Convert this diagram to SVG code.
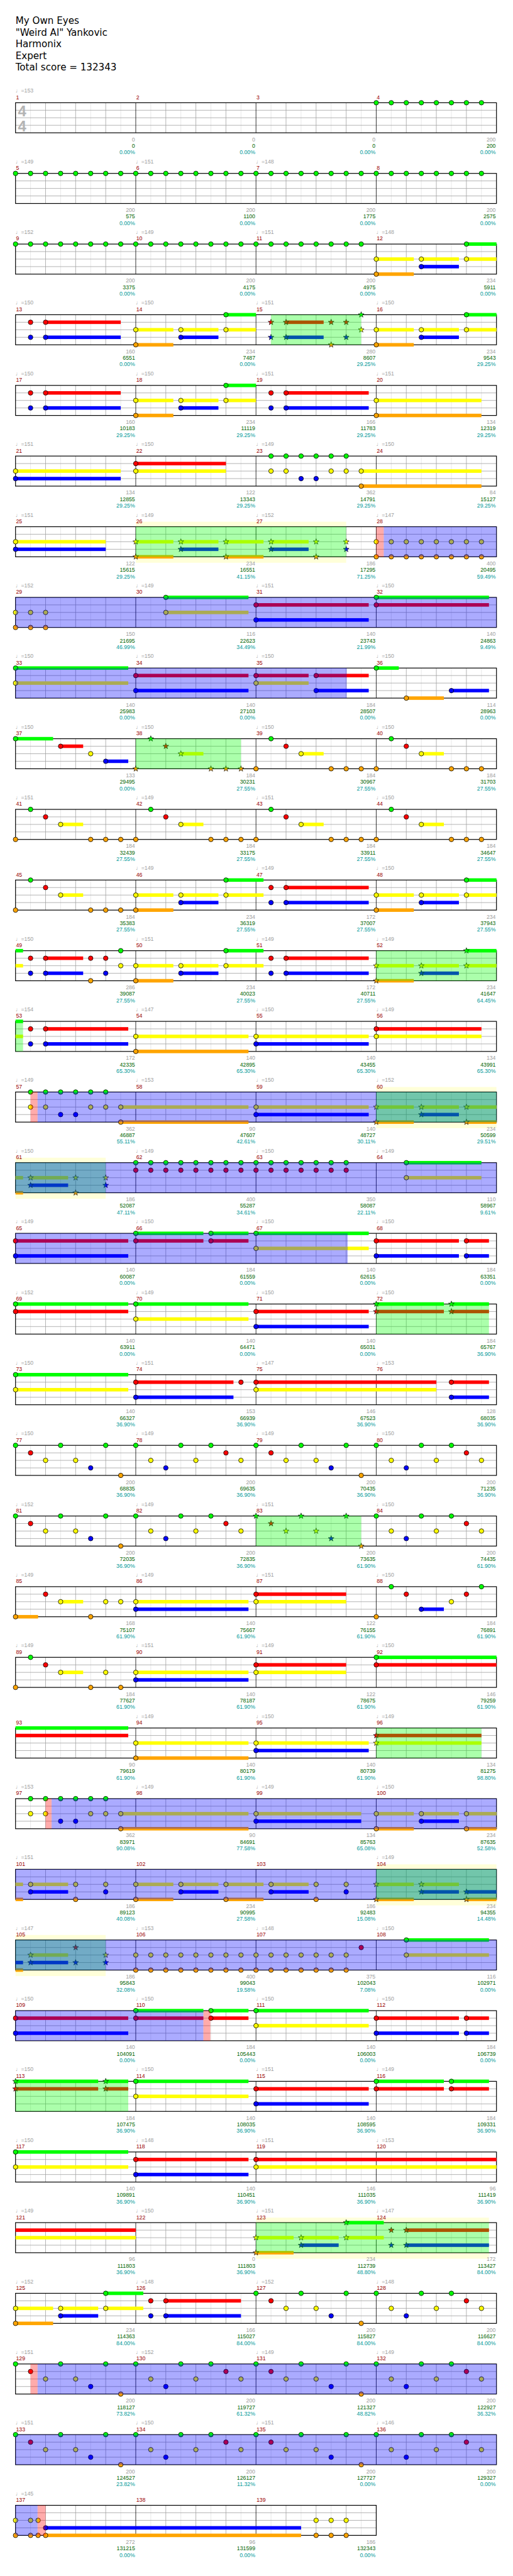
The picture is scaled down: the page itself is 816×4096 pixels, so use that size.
<svg xmlns="http://www.w3.org/2000/svg" width="816" height="4096" viewBox="0 0 816 4096">
<style>
.t{font-family:"DejaVu Sans","Liberation Sans",sans-serif;font-size:19px;fill:#000}
.tp{font-family:"Liberation Sans","DejaVu Sans",sans-serif;font-size:11px;fill:#a0a0a0}
.mn{font-family:"Liberation Sans",sans-serif;font-size:11px;fill:#990000}
.s1,.s2,.s3{font-family:"Liberation Sans",sans-serif;font-size:11px;text-anchor:end}
.s1{fill:#a0a0a0}.s2{fill:#006400}.s3{fill:#009999}
.ts{font-family:"Liberation Sans",sans-serif;font-size:30px;font-weight:bold;fill:#b4b4b4;text-anchor:middle}
.bG{fill:#00ff00}.bR{fill:#ff0000}.bY{fill:#ffff00}.bB{fill:#0000ff}.bO{fill:#ffa500}
.sp{fill:#00ff00;fill-opacity:.33}
.act{fill:#0000ff;fill-opacity:.33}
.pk{fill:#ff0000;fill-opacity:.33}
.py{fill:#ffff00;fill-opacity:.15}
</style>
<defs>
<circle id="G" r="4.6" fill="#00ff00" stroke="#000"/>
<circle id="R" r="4.6" fill="#ff0000" stroke="#000"/>
<circle id="Y" r="4.6" fill="#ffff00" stroke="#000"/>
<circle id="B" r="4.6" fill="#0000ff" stroke="#000"/>
<circle id="O" r="4.6" fill="#ffa500" stroke="#000"/>
<polygon id="SG" points="0,-6 1.41,-1.94 5.71,-1.85 2.28,0.74 3.53,4.85 0,2.4 -3.53,4.85 -2.28,0.74 -5.71,-1.85 -1.41,-1.94" fill="#00ff00" stroke="#000" stroke-width=".8"/>
<polygon id="SR" points="0,-6 1.41,-1.94 5.71,-1.85 2.28,0.74 3.53,4.85 0,2.4 -3.53,4.85 -2.28,0.74 -5.71,-1.85 -1.41,-1.94" fill="#ff0000" stroke="#000" stroke-width=".8"/>
<polygon id="SY" points="0,-6 1.41,-1.94 5.71,-1.85 2.28,0.74 3.53,4.85 0,2.4 -3.53,4.85 -2.28,0.74 -5.71,-1.85 -1.41,-1.94" fill="#ffff00" stroke="#000" stroke-width=".8"/>
<polygon id="SB" points="0,-6 1.41,-1.94 5.71,-1.85 2.28,0.74 3.53,4.85 0,2.4 -3.53,4.85 -2.28,0.74 -5.71,-1.85 -1.41,-1.94" fill="#0000ff" stroke="#000" stroke-width=".8"/>
<polygon id="SO" points="0,-6 1.41,-1.94 5.71,-1.85 2.28,0.74 3.53,4.85 0,2.4 -3.53,4.85 -2.28,0.74 -5.71,-1.85 -1.41,-1.94" fill="#ffa500" stroke="#000" stroke-width=".8"/>
<g id="grid4">
<rect x="31" y="0" width="960" height="60" fill="#fff"/>
<path d="M61 0V60M121 0V60M181 0V60M241 0V60M301 0V60M361 0V60M421 0V60M481 0V60M541 0V60M601 0V60M661 0V60M721 0V60M781 0V60M841 0V60M901 0V60M961 0V60" stroke="#e2e2e2"/>
<path d="M91 0V60M151 0V60M211 0V60M331 0V60M391 0V60M451 0V60M571 0V60M631 0V60M691 0V60M811 0V60M871 0V60M931 0V60M31 15H991M31 30H991M31 45H991" stroke="#a0a0a0"/>
<path d="M271 0V60M511 0V60M751 0V60" stroke="#000"/>
<rect x="31" y="0" width="960" height="60" fill="none" stroke="#000" stroke-width="1.5"/>
</g>
<g id="grid3">
<rect x="31" y="0" width="720" height="60" fill="#fff"/>
<path d="M61 0V60M121 0V60M181 0V60M241 0V60M301 0V60M361 0V60M421 0V60M481 0V60M541 0V60M601 0V60M661 0V60M721 0V60" stroke="#e2e2e2"/>
<path d="M91 0V60M151 0V60M211 0V60M331 0V60M391 0V60M451 0V60M571 0V60M631 0V60M691 0V60M31 15H751M31 30H751M31 45H751" stroke="#a0a0a0"/>
<path d="M271 0V60M511 0V60" stroke="#000"/>
<rect x="31" y="0" width="720" height="60" fill="none" stroke="#000" stroke-width="1.5"/>
</g>
<g id="pA1"><use href="#G" x="31"/><use href="#G" x="121"/><use href="#G" x="211"/><use href="#R" x="61" y="15"/><use href="#Y" x="91" y="30"/><use href="#Y" x="151" y="30"/><use href="#B" x="181" y="45"/><use href="#O" x="241" y="60"/></g>
<g id="pB"><use href="#G" x="271"/><use href="#G" x="361"/><use href="#G" x="421"/><use href="#R" x="451" y="15"/><use href="#Y" x="301" y="30"/><use href="#Y" x="391" y="30"/><use href="#Y" x="481" y="30"/><use href="#B" x="331" y="45"/></g>
<g id="pA3"><use href="#G" x="511"/><use href="#G" x="601"/><use href="#G" x="691"/><use href="#R" x="541" y="15"/><use href="#Y" x="571" y="30"/><use href="#Y" x="631" y="30"/><use href="#B" x="661" y="45"/><use href="#O" x="721" y="60"/></g>
<g id="pC"><use href="#G" x="751"/><use href="#G" x="841"/><use href="#G" x="901"/><use href="#R" x="931" y="15"/><use href="#Y" x="781" y="30"/><use href="#Y" x="871" y="30"/><use href="#Y" x="961" y="30"/><use href="#B" x="811" y="45"/></g>
</defs>
<g transform="scale(0.796875)">
<g id="title">
<text class="t" x="31" y="48">My Own Eyes</text>
<text class="t" x="31" y="71">"Weird Al" Yankovic</text>
<text class="t" x="31" y="94">Harmonix</text>
<text class="t" x="31" y="117.5">Expert</text>
<text class="t" x="31" y="140.5">Total score = 132343</text>
</g>

<g id="row1" transform="translate(0,205)">
<use href="#grid4"/>
<text class="ts" x="44" y="27">4</text><text class="ts" x="44" y="57">4</text>
<text class="tp" x="31" y="-20">♩=153</text>
<text class="mn" x="32" y="-7">1</text><text class="mn" x="272" y="-7">2</text><text class="mn" x="512" y="-7">3</text><text class="mn" x="752" y="-7">4</text>
<use href="#G" x="751"/><use href="#G" x="781"/><use href="#G" x="811"/><use href="#G" x="841"/><use href="#G" x="871"/><use href="#G" x="901"/><use href="#G" x="931"/><use href="#G" x="961"/>
<text class="s1" x="269.5" y="77">0</text><text class="s2" x="269.5" y="90">0</text><text class="s3" x="269.5" y="103">0.00%</text>
<text class="s1" x="509.5" y="77">0</text><text class="s2" x="509.5" y="90">0</text><text class="s3" x="509.5" y="103">0.00%</text>
<text class="s1" x="749.5" y="77">0</text><text class="s2" x="749.5" y="90">0</text><text class="s3" x="749.5" y="103">0.00%</text>
<text class="s1" x="989.5" y="77">200</text><text class="s2" x="989.5" y="90">200</text><text class="s3" x="989.5" y="103">0.00%</text>
</g>

<g id="row2" transform="translate(0,346)">
<use href="#grid4"/>
<text class="tp" x="31" y="-20">♩=149</text><text class="tp" x="271" y="-20">♩=151</text><text class="tp" x="511" y="-20">♩=148</text>
<text class="mn" x="32" y="-7">5</text><text class="mn" x="272" y="-7">6</text><text class="mn" x="512" y="-7">7</text><text class="mn" x="752" y="-7">8</text>
<use href="#G" x="31"/><use href="#G" x="61"/><use href="#G" x="91"/><use href="#G" x="121"/><use href="#G" x="151"/><use href="#G" x="181"/><use href="#G" x="211"/><use href="#G" x="241"/>
<use href="#G" x="271"/><use href="#G" x="301"/><use href="#G" x="331"/><use href="#G" x="361"/><use href="#G" x="391"/><use href="#G" x="421"/><use href="#G" x="451"/><use href="#G" x="481"/>
<use href="#G" x="511"/><use href="#G" x="541"/><use href="#G" x="571"/><use href="#G" x="601"/><use href="#G" x="631"/><use href="#G" x="661"/><use href="#G" x="691"/><use href="#G" x="721"/>
<use href="#G" x="751"/><use href="#G" x="781"/><use href="#G" x="811"/><use href="#G" x="841"/><use href="#G" x="871"/><use href="#G" x="901"/><use href="#G" x="931"/><use href="#G" x="961"/>
<text class="s1" x="269.5" y="77">200</text><text class="s2" x="269.5" y="90">575</text><text class="s3" x="269.5" y="103">0.00%</text>
<text class="s1" x="509.5" y="77">200</text><text class="s2" x="509.5" y="90">1100</text><text class="s3" x="509.5" y="103">0.00%</text>
<text class="s1" x="749.5" y="77">200</text><text class="s2" x="749.5" y="90">1775</text><text class="s3" x="749.5" y="103">0.00%</text>
<text class="s1" x="989.5" y="77">200</text><text class="s2" x="989.5" y="90">2575</text><text class="s3" x="989.5" y="103">0.00%</text>
</g>

<g id="row3" transform="translate(0,487)">
<use href="#grid4"/>
<text class="tp" x="31" y="-20">♩=152</text><text class="tp" x="271" y="-20">♩=149</text><text class="tp" x="511" y="-20">♩=151</text><text class="tp" x="751" y="-20">♩=148</text>
<text class="mn" x="32" y="-7">9</text><text class="mn" x="272" y="-7">10</text><text class="mn" x="512" y="-7">11</text><text class="mn" x="752" y="-7">12</text>
<rect class="bY" x="751" y="26.5" width="75" height="7"/><rect class="bO" x="751" y="56.5" width="75" height="7"/><rect class="bY" x="841" y="26.5" width="75" height="7"/><rect class="bB" x="841" y="41.5" width="75" height="7"/><rect class="bY" x="931" y="26.5" width="60" height="7"/><rect class="bG" x="931" y="-3.5" width="60" height="7"/>
<use href="#G" x="31"/><use href="#G" x="61"/><use href="#G" x="91"/><use href="#G" x="121"/><use href="#G" x="151"/><use href="#G" x="181"/><use href="#G" x="211"/><use href="#G" x="241"/>
<use href="#G" x="271"/><use href="#G" x="301"/><use href="#G" x="331"/><use href="#G" x="361"/><use href="#G" x="391"/><use href="#G" x="421"/><use href="#G" x="451"/><use href="#G" x="481"/>
<use href="#G" x="511"/><use href="#G" x="541"/><use href="#G" x="571"/><use href="#G" x="601"/><use href="#G" x="631"/><use href="#G" x="661"/><use href="#G" x="691"/><use href="#G" x="721"/>
<use href="#Y" x="751" y="30"/><use href="#O" x="751" y="60"/><use href="#Y" x="841" y="30"/><use href="#B" x="841" y="45"/><use href="#Y" x="931" y="30"/><use href="#G" x="931"/>
<text class="s1" x="269.5" y="77">200</text><text class="s2" x="269.5" y="90">3375</text><text class="s3" x="269.5" y="103">0.00%</text>
<text class="s1" x="509.5" y="77">200</text><text class="s2" x="509.5" y="90">4175</text><text class="s3" x="509.5" y="103">0.00%</text>
<text class="s1" x="749.5" y="77">200</text><text class="s2" x="749.5" y="90">4975</text><text class="s3" x="749.5" y="103">0.00%</text>
<text class="s1" x="989.5" y="77">234</text><text class="s2" x="989.5" y="90">5911</text><text class="s3" x="989.5" y="103">0.00%</text>
</g>

<g id="row4" transform="translate(0,628)">
<use href="#grid4"/>
<text class="tp" x="31" y="-20">♩=150</text><text class="tp" x="271" y="-20">♩=150</text><text class="tp" x="511" y="-20">♩=151</text><text class="tp" x="751" y="-20">♩=150</text>
<text class="mn" x="32" y="-7">13</text><text class="mn" x="272" y="-7">14</text><text class="mn" x="512" y="-7">15</text><text class="mn" x="752" y="-7">16</text>
<rect class="bR" x="91" y="11.5" width="150" height="7"/><rect class="bB" x="91" y="41.5" width="150" height="7"/>
<rect class="bY" x="271" y="26.5" width="75" height="7"/><rect class="bO" x="271" y="56.5" width="75" height="7"/><rect class="bY" x="361" y="26.5" width="75" height="7"/><rect class="bB" x="361" y="41.5" width="75" height="7"/><rect class="bG" x="451" y="-3.5" width="60" height="7"/><rect class="bY" x="451" y="26.5" width="60" height="7"/>
<rect class="bR" x="571" y="11.5" width="75" height="7"/><rect class="bB" x="571" y="41.5" width="75" height="7"/>
<rect class="bY" x="751" y="26.5" width="75" height="7"/><rect class="bO" x="751" y="56.5" width="75" height="7"/><rect class="bY" x="841" y="26.5" width="75" height="7"/><rect class="bB" x="841" y="41.5" width="75" height="7"/><rect class="bY" x="931" y="26.5" width="60" height="7"/><rect class="bG" x="931" y="-3.5" width="60" height="7"/>
<use href="#R" x="61" y="15"/><use href="#R" x="91" y="15"/><use href="#B" x="61" y="45"/><use href="#B" x="91" y="45"/>
<use href="#Y" x="271" y="30"/><use href="#O" x="271" y="60"/><use href="#Y" x="361" y="30"/><use href="#B" x="361" y="45"/><use href="#G" x="451"/><use href="#Y" x="451" y="30"/>
<use href="#SR" x="541" y="15"/><use href="#SB" x="541" y="45"/><use href="#SR" x="571" y="15"/><use href="#SB" x="571" y="45"/><use href="#SR" x="661" y="15"/><use href="#SO" x="661" y="60"/><use href="#SR" x="691" y="15"/><use href="#SB" x="691" y="45"/><use href="#SG" x="721"/><use href="#SY" x="721" y="30"/>
<use href="#Y" x="751" y="30"/><use href="#O" x="751" y="60"/><use href="#Y" x="841" y="30"/><use href="#B" x="841" y="45"/><use href="#Y" x="931" y="30"/><use href="#G" x="931"/>
<rect class="sp" x="541" y="0" width="180" height="60"/>
<text class="s1" x="269.5" y="77">160</text><text class="s2" x="269.5" y="90">6551</text><text class="s3" x="269.5" y="103">0.00%</text>
<text class="s1" x="509.5" y="77">234</text><text class="s2" x="509.5" y="90">7487</text><text class="s3" x="509.5" y="103">0.00%</text>
<text class="s1" x="749.5" y="77">280</text><text class="s2" x="749.5" y="90">8607</text><text class="s3" x="749.5" y="103">29.25%</text>
<text class="s1" x="989.5" y="77">234</text><text class="s2" x="989.5" y="90">9543</text><text class="s3" x="989.5" y="103">29.25%</text>
</g>

<g id="row5" transform="translate(0,769)">
<use href="#grid4"/>
<text class="tp" x="31" y="-20">♩=150</text><text class="tp" x="271" y="-20">♩=150</text><text class="tp" x="511" y="-20">♩=151</text><text class="tp" x="751" y="-20">♩=151</text>
<text class="mn" x="32" y="-7">17</text><text class="mn" x="272" y="-7">18</text><text class="mn" x="512" y="-7">19</text><text class="mn" x="752" y="-7">20</text>
<rect class="bR" x="91" y="11.5" width="150" height="7"/><rect class="bB" x="91" y="41.5" width="150" height="7"/>
<rect class="bY" x="271" y="26.5" width="75" height="7"/><rect class="bO" x="271" y="56.5" width="75" height="7"/><rect class="bY" x="361" y="26.5" width="75" height="7"/><rect class="bB" x="361" y="41.5" width="75" height="7"/><rect class="bG" x="451" y="-3.5" width="60" height="7"/><rect class="bY" x="451" y="26.5" width="60" height="7"/>
<rect class="bR" x="571" y="11.5" width="165" height="7"/><rect class="bB" x="571" y="41.5" width="165" height="7"/>
<rect class="bY" x="751" y="26.5" width="210" height="7"/><rect class="bO" x="751" y="56.5" width="210" height="7"/>
<use href="#R" x="61" y="15"/><use href="#R" x="91" y="15"/><use href="#B" x="61" y="45"/><use href="#B" x="91" y="45"/>
<use href="#Y" x="271" y="30"/><use href="#O" x="271" y="60"/><use href="#Y" x="361" y="30"/><use href="#B" x="361" y="45"/><use href="#G" x="451"/><use href="#Y" x="451" y="30"/>
<use href="#R" x="541" y="15"/><use href="#R" x="571" y="15"/><use href="#B" x="541" y="45"/><use href="#B" x="571" y="45"/>
<use href="#Y" x="751" y="30"/><use href="#O" x="751" y="60"/>
<text class="s1" x="269.5" y="77">160</text><text class="s2" x="269.5" y="90">10183</text><text class="s3" x="269.5" y="103">29.25%</text>
<text class="s1" x="509.5" y="77">234</text><text class="s2" x="509.5" y="90">11119</text><text class="s3" x="509.5" y="103">29.25%</text>
<text class="s1" x="749.5" y="77">166</text><text class="s2" x="749.5" y="90">11783</text><text class="s3" x="749.5" y="103">29.25%</text>
<text class="s1" x="989.5" y="77">134</text><text class="s2" x="989.5" y="90">12319</text><text class="s3" x="989.5" y="103">29.25%</text>
</g>

<g id="row6" transform="translate(0,910)">
<use href="#grid4"/>
<text class="tp" x="31" y="-20">♩=151</text><text class="tp" x="271" y="-20">♩=150</text><text class="tp" x="511" y="-20">♩=149</text><text class="tp" x="751" y="-20">♩=150</text>
<text class="mn" x="32" y="-7">21</text><text class="mn" x="272" y="-7">22</text><text class="mn" x="512" y="-7">23</text><text class="mn" x="752" y="-7">24</text>
<rect class="bY" x="31" y="26.5" width="210" height="7"/><rect class="bB" x="31" y="41.5" width="210" height="7"/>
<rect class="bR" x="271" y="11.5" width="180" height="7"/><rect class="bY" x="271" y="26.5" width="180" height="7"/>
<rect class="bY" x="721" y="26.5" width="240" height="7"/><rect class="bO" x="721" y="56.5" width="240" height="7"/>
<use href="#Y" x="31" y="30"/><use href="#B" x="31" y="45"/><use href="#R" x="271" y="15"/><use href="#Y" x="271" y="30"/>
<use href="#G" x="541"/><use href="#G" x="571"/><use href="#G" x="601"/><use href="#G" x="631"/><use href="#G" x="661"/><use href="#G" x="691"/>
<use href="#Y" x="541" y="30"/><use href="#Y" x="571" y="30"/><use href="#Y" x="661" y="30"/><use href="#Y" x="691" y="30"/><use href="#Y" x="721" y="30"/>
<use href="#B" x="601" y="45"/><use href="#B" x="631" y="45"/><use href="#O" x="721" y="60"/>
<text class="s1" x="269.5" y="77">134</text><text class="s2" x="269.5" y="90">12855</text><text class="s3" x="269.5" y="103">29.25%</text>
<text class="s1" x="509.5" y="77">122</text><text class="s2" x="509.5" y="90">13343</text><text class="s3" x="509.5" y="103">29.25%</text>
<text class="s1" x="749.5" y="77">362</text><text class="s2" x="749.5" y="90">14791</text><text class="s3" x="749.5" y="103">29.25%</text>
<text class="s1" x="989.5" y="77">84</text><text class="s2" x="989.5" y="90">15127</text><text class="s3" x="989.5" y="103">29.25%</text>
</g>

<g id="row7" transform="translate(0,1051)">
<rect class="py" x="271" y="-10" width="420" height="82"/>
<use href="#grid4"/>
<text class="tp" x="31" y="-20">♩=151</text><text class="tp" x="271" y="-20">♩=149</text><text class="tp" x="511" y="-20">♩=152</text><text class="tp" x="751" y="-20">♩=147</text>
<text class="mn" x="32" y="-7">25</text><text class="mn" x="272" y="-7">26</text><text class="mn" x="512" y="-7">27</text><text class="mn" x="752" y="-7">28</text>
<rect class="bY" x="31" y="26.5" width="180" height="7"/><rect class="bB" x="31" y="41.5" width="180" height="7"/>
<rect class="bY" x="271" y="26.5" width="75" height="7"/><rect class="bO" x="271" y="56.5" width="75" height="7"/><rect class="bY" x="361" y="26.5" width="75" height="7"/><rect class="bB" x="361" y="41.5" width="75" height="7"/><rect class="bY" x="451" y="26.5" width="75" height="7"/><rect class="bO" x="451" y="56.5" width="75" height="7"/><rect class="bY" x="541" y="26.5" width="75" height="7"/><rect class="bB" x="541" y="41.5" width="75" height="7"/>
<use href="#Y" x="31" y="30"/><use href="#B" x="31" y="45"/>
<use href="#SY" x="271" y="30"/><use href="#SO" x="271" y="60"/><use href="#SY" x="361" y="30"/><use href="#SB" x="361" y="45"/><use href="#SY" x="451" y="30"/><use href="#SO" x="451" y="60"/><use href="#SY" x="541" y="30"/><use href="#SB" x="541" y="45"/><use href="#SY" x="631" y="30"/><use href="#SO" x="631" y="60"/><use href="#SY" x="691" y="30"/><use href="#SB" x="691" y="45"/>
<use href="#Y" x="751" y="30"/><use href="#Y" x="781" y="30"/><use href="#Y" x="811" y="30"/><use href="#Y" x="841" y="30"/><use href="#Y" x="871" y="30"/><use href="#Y" x="901" y="30"/><use href="#Y" x="931" y="30"/><use href="#Y" x="961" y="30"/>
<use href="#O" x="751" y="60"/><use href="#O" x="781" y="60"/><use href="#O" x="811" y="60"/><use href="#O" x="841" y="60"/><use href="#O" x="871" y="60"/><use href="#O" x="901" y="60"/><use href="#O" x="931" y="60"/><use href="#O" x="961" y="60"/>
<rect class="sp" x="271" y="0" width="420" height="60"/><rect class="pk" x="751" y="0" width="15" height="60"/><rect class="act" x="766" y="0" width="225" height="60"/>
<text class="s1" x="269.5" y="77">122</text><text class="s2" x="269.5" y="90">15615</text><text class="s3" x="269.5" y="103">29.25%</text>
<text class="s1" x="509.5" y="77">234</text><text class="s2" x="509.5" y="90">16551</text><text class="s3" x="509.5" y="103">41.15%</text>
<text class="s1" x="749.5" y="77">186</text><text class="s2" x="749.5" y="90">17295</text><text class="s3" x="749.5" y="103">71.25%</text>
<text class="s1" x="989.5" y="77">400</text><text class="s2" x="989.5" y="90">20495</text><text class="s3" x="989.5" y="103">59.49%</text>
</g>

<g id="row8" transform="translate(0,1192)">
<use href="#grid4"/>
<text class="tp" x="31" y="-20">♩=152</text><text class="tp" x="271" y="-20">♩=149</text><text class="tp" x="511" y="-20">♩=151</text><text class="tp" x="751" y="-20">♩=150</text>
<text class="mn" x="32" y="-7">29</text><text class="mn" x="272" y="-7">30</text><text class="mn" x="512" y="-7">31</text><text class="mn" x="752" y="-7">32</text>
<rect class="bG" x="331" y="-3.5" width="165" height="7"/><rect class="bY" x="331" y="26.5" width="165" height="7"/>
<rect class="bR" x="511" y="11.5" width="225" height="7"/><rect class="bB" x="511" y="41.5" width="225" height="7"/>
<rect class="bG" x="751" y="-3.5" width="225" height="7"/><rect class="bR" x="751" y="11.5" width="225" height="7"/>
<use href="#Y" x="31" y="30"/><use href="#Y" x="61" y="30"/><use href="#Y" x="91" y="30"/><use href="#O" x="31" y="60"/><use href="#O" x="61" y="60"/><use href="#O" x="91" y="60"/>
<use href="#G" x="331"/><use href="#Y" x="331" y="30"/><use href="#R" x="511" y="15"/><use href="#B" x="511" y="45"/><use href="#G" x="751"/><use href="#R" x="751" y="15"/>
<rect class="act" x="31" y="0" width="960" height="60"/>
<text class="s1" x="269.5" y="77">150</text><text class="s2" x="269.5" y="90">21695</text><text class="s3" x="269.5" y="103">46.99%</text>
<text class="s1" x="509.5" y="77">116</text><text class="s2" x="509.5" y="90">22623</text><text class="s3" x="509.5" y="103">34.49%</text>
<text class="s1" x="749.5" y="77">140</text><text class="s2" x="749.5" y="90">23743</text><text class="s3" x="749.5" y="103">21.99%</text>
<text class="s1" x="989.5" y="77">140</text><text class="s2" x="989.5" y="90">24863</text><text class="s3" x="989.5" y="103">9.49%</text>
</g>

<g id="row9" transform="translate(0,1333)">
<use href="#grid4"/>
<text class="tp" x="31" y="-20">♩=150</text><text class="tp" x="271" y="-20">♩=150</text><text class="tp" x="511" y="-20">♩=150</text><text class="tp" x="751" y="-20">♩=150</text>
<text class="mn" x="32" y="-7">33</text><text class="mn" x="272" y="-7">34</text><text class="mn" x="512" y="-7">35</text><text class="mn" x="752" y="-7">36</text>
<rect class="bG" x="31" y="-3.5" width="225" height="7"/><rect class="bY" x="31" y="26.5" width="225" height="7"/>
<rect class="bR" x="271" y="11.5" width="225" height="7"/><rect class="bB" x="271" y="41.5" width="225" height="7"/>
<rect class="bR" x="511" y="11.5" width="105" height="7"/><rect class="bY" x="511" y="26.5" width="105" height="7"/><rect class="bR" x="631" y="11.5" width="105" height="7"/><rect class="bB" x="631" y="41.5" width="105" height="7"/>
<rect class="bG" x="751" y="-3.5" width="45" height="7"/><rect class="bO" x="811" y="56.5" width="75" height="7"/><rect class="bB" x="901" y="41.5" width="75" height="7"/>
<use href="#G" x="31"/><use href="#Y" x="31" y="30"/><use href="#R" x="271" y="15"/><use href="#B" x="271" y="45"/><use href="#R" x="511" y="15"/><use href="#Y" x="511" y="30"/><use href="#R" x="631" y="15"/><use href="#B" x="631" y="45"/><use href="#G" x="751"/><use href="#O" x="811" y="60"/><use href="#B" x="901" y="45"/>
<rect class="act" x="31" y="0" width="661" height="60"/>
<text class="s1" x="269.5" y="77">140</text><text class="s2" x="269.5" y="90">25983</text><text class="s3" x="269.5" y="103">0.00%</text>
<text class="s1" x="509.5" y="77">140</text><text class="s2" x="509.5" y="90">27103</text><text class="s3" x="509.5" y="103">0.00%</text>
<text class="s1" x="749.5" y="77">184</text><text class="s2" x="749.5" y="90">28507</text><text class="s3" x="749.5" y="103">0.00%</text>
<text class="s1" x="989.5" y="77">114</text><text class="s2" x="989.5" y="90">28963</text><text class="s3" x="989.5" y="103">0.00%</text>
</g>

<g id="row10" transform="translate(0,1474)">
<use href="#grid4"/>
<text class="tp" x="31" y="-20">♩=150</text><text class="tp" x="271" y="-20">♩=150</text><text class="tp" x="511" y="-20">♩=150</text><text class="tp" x="751" y="-20">♩=150</text>
<text class="mn" x="32" y="-7">37</text><text class="mn" x="272" y="-7">38</text><text class="mn" x="512" y="-7">39</text><text class="mn" x="752" y="-7">40</text>
<rect class="bG" x="31" y="-3.5" width="75" height="7"/><rect class="bR" x="121" y="11.5" width="45" height="7"/><rect class="bB" x="211" y="41.5" width="45" height="7"/>
<rect class="bY" x="361" y="26.5" width="45" height="7"/><rect class="bY" x="601" y="26.5" width="45" height="7"/><rect class="bY" x="841" y="26.5" width="45" height="7"/>
<use href="#G" x="31"/><use href="#R" x="121" y="15"/><use href="#Y" x="181" y="30"/><use href="#B" x="211" y="45"/>
<use href="#SO" x="271" y="60"/><use href="#SG" x="301"/><use href="#SR" x="331" y="15"/><use href="#SY" x="361" y="30"/><use href="#SO" x="421" y="60"/><use href="#SO" x="451" y="60"/><use href="#SO" x="481" y="60"/>
<use href="#O" x="511" y="60"/><use href="#G" x="541"/><use href="#R" x="571" y="15"/><use href="#Y" x="601" y="30"/><use href="#O" x="661" y="60"/><use href="#O" x="691" y="60"/><use href="#O" x="721" y="60"/>
<use href="#O" x="751" y="60"/><use href="#G" x="781"/><use href="#R" x="811" y="15"/><use href="#Y" x="841" y="30"/><use href="#O" x="901" y="60"/><use href="#O" x="931" y="60"/><use href="#O" x="961" y="60"/>
<rect class="sp" x="271" y="0" width="210" height="60"/>
<text class="s1" x="269.5" y="77">133</text><text class="s2" x="269.5" y="90">29495</text><text class="s3" x="269.5" y="103">0.00%</text>
<text class="s1" x="509.5" y="77">184</text><text class="s2" x="509.5" y="90">30231</text><text class="s3" x="509.5" y="103">27.55%</text>
<text class="s1" x="749.5" y="77">184</text><text class="s2" x="749.5" y="90">30967</text><text class="s3" x="749.5" y="103">27.55%</text>
<text class="s1" x="989.5" y="77">184</text><text class="s2" x="989.5" y="90">31703</text><text class="s3" x="989.5" y="103">27.55%</text>
</g>

<g id="row11" transform="translate(0,1615)">
<use href="#grid4"/>
<text class="tp" x="31" y="-20">♩=151</text><text class="tp" x="271" y="-20">♩=149</text><text class="tp" x="511" y="-20">♩=151</text><text class="tp" x="751" y="-20">♩=150</text>
<text class="mn" x="32" y="-7">41</text><text class="mn" x="272" y="-7">42</text><text class="mn" x="512" y="-7">43</text><text class="mn" x="752" y="-7">44</text>
<rect class="bY" x="121" y="26.5" width="45" height="7"/><rect class="bY" x="361" y="26.5" width="45" height="7"/><rect class="bY" x="601" y="26.5" width="45" height="7"/><rect class="bY" x="841" y="26.5" width="45" height="7"/>
<use href="#O" x="31" y="60"/><use href="#G" x="61"/><use href="#R" x="91" y="15"/><use href="#Y" x="121" y="30"/><use href="#O" x="181" y="60"/><use href="#O" x="211" y="60"/><use href="#O" x="241" y="60"/>
<use href="#O" x="271" y="60"/><use href="#G" x="301"/><use href="#R" x="331" y="15"/><use href="#Y" x="361" y="30"/><use href="#O" x="421" y="60"/><use href="#O" x="451" y="60"/><use href="#O" x="481" y="60"/>
<use href="#O" x="511" y="60"/><use href="#G" x="541"/><use href="#R" x="571" y="15"/><use href="#Y" x="601" y="30"/><use href="#O" x="661" y="60"/><use href="#O" x="691" y="60"/><use href="#O" x="721" y="60"/>
<use href="#O" x="751" y="60"/><use href="#G" x="781"/><use href="#R" x="811" y="15"/><use href="#Y" x="841" y="30"/><use href="#O" x="901" y="60"/><use href="#O" x="931" y="60"/><use href="#O" x="961" y="60"/>
<text class="s1" x="269.5" y="77">184</text><text class="s2" x="269.5" y="90">32439</text><text class="s3" x="269.5" y="103">27.55%</text>
<text class="s1" x="509.5" y="77">184</text><text class="s2" x="509.5" y="90">33175</text><text class="s3" x="509.5" y="103">27.55%</text>
<text class="s1" x="749.5" y="77">184</text><text class="s2" x="749.5" y="90">33911</text><text class="s3" x="749.5" y="103">27.55%</text>
<text class="s1" x="989.5" y="77">184</text><text class="s2" x="989.5" y="90">34647</text><text class="s3" x="989.5" y="103">27.55%</text>
</g>

<g id="row12" transform="translate(0,1756)">
<use href="#grid4"/>
<text class="tp" x="271" y="-20">♩=149</text><text class="tp" x="511" y="-20">♩=149</text><text class="tp" x="751" y="-20">♩=150</text>
<text class="mn" x="32" y="-7">45</text><text class="mn" x="272" y="-7">46</text><text class="mn" x="512" y="-7">47</text><text class="mn" x="752" y="-7">48</text>
<rect class="bY" x="121" y="26.5" width="45" height="7"/>
<rect class="bY" x="271" y="26.5" width="75" height="7"/><rect class="bO" x="271" y="56.5" width="75" height="7"/><rect class="bY" x="361" y="26.5" width="75" height="7"/><rect class="bB" x="361" y="41.5" width="75" height="7"/><rect class="bG" x="451" y="-3.5" width="75" height="7"/><rect class="bY" x="451" y="26.5" width="75" height="7"/>
<rect class="bR" x="571" y="11.5" width="165" height="7"/><rect class="bB" x="571" y="41.5" width="165" height="7"/>
<rect class="bY" x="751" y="26.5" width="75" height="7"/><rect class="bO" x="751" y="56.5" width="75" height="7"/><rect class="bY" x="841" y="26.5" width="75" height="7"/><rect class="bB" x="841" y="41.5" width="75" height="7"/><rect class="bG" x="931" y="-3.5" width="60" height="7"/><rect class="bY" x="931" y="26.5" width="60" height="7"/>
<use href="#O" x="31" y="60"/><use href="#G" x="61"/><use href="#R" x="91" y="15"/><use href="#Y" x="121" y="30"/><use href="#O" x="181" y="60"/><use href="#O" x="211" y="60"/><use href="#O" x="241" y="60"/>
<use href="#Y" x="271" y="30"/><use href="#O" x="271" y="60"/><use href="#Y" x="361" y="30"/><use href="#B" x="361" y="45"/><use href="#G" x="451"/><use href="#Y" x="451" y="30"/>
<use href="#R" x="541" y="15"/><use href="#R" x="571" y="15"/><use href="#B" x="541" y="45"/><use href="#B" x="571" y="45"/>
<use href="#Y" x="751" y="30"/><use href="#O" x="751" y="60"/><use href="#Y" x="841" y="30"/><use href="#B" x="841" y="45"/><use href="#G" x="931"/><use href="#Y" x="931" y="30"/>
<text class="s1" x="269.5" y="77">184</text><text class="s2" x="269.5" y="90">35383</text><text class="s3" x="269.5" y="103">27.55%</text>
<text class="s1" x="509.5" y="77">234</text><text class="s2" x="509.5" y="90">36319</text><text class="s3" x="509.5" y="103">27.55%</text>
<text class="s1" x="749.5" y="77">172</text><text class="s2" x="749.5" y="90">37007</text><text class="s3" x="749.5" y="103">27.55%</text>
<text class="s1" x="989.5" y="77">234</text><text class="s2" x="989.5" y="90">37943</text><text class="s3" x="989.5" y="103">27.55%</text>
</g>

<g id="row13" transform="translate(0,1897)">
<use href="#grid4"/>
<text class="tp" x="31" y="-20">♩=150</text><text class="tp" x="271" y="-20">♩=151</text><text class="tp" x="511" y="-20">♩=149</text><text class="tp" x="751" y="-20">♩=149</text>
<text class="mn" x="32" y="-7">49</text><text class="mn" x="272" y="-7">50</text><text class="mn" x="512" y="-7">51</text><text class="mn" x="752" y="-7">52</text>
<rect class="bG" x="31" y="-3.5" width="15" height="7"/><rect class="bY" x="31" y="26.5" width="15" height="7"/><rect class="bR" x="91" y="11.5" width="75" height="7"/><rect class="bB" x="91" y="41.5" width="75" height="7"/>
<rect class="bY" x="271" y="26.5" width="75" height="7"/><rect class="bO" x="271" y="56.5" width="75" height="7"/><rect class="bY" x="361" y="26.5" width="75" height="7"/><rect class="bB" x="361" y="41.5" width="75" height="7"/><rect class="bG" x="451" y="-3.5" width="75" height="7"/><rect class="bY" x="451" y="26.5" width="75" height="7"/>
<rect class="bR" x="571" y="11.5" width="165" height="7"/><rect class="bB" x="571" y="41.5" width="165" height="7"/>
<rect class="bY" x="751" y="26.5" width="75" height="7"/><rect class="bO" x="751" y="56.5" width="75" height="7"/><rect class="bY" x="841" y="26.5" width="75" height="7"/><rect class="bB" x="841" y="41.5" width="75" height="7"/><rect class="bG" x="931" y="-3.5" width="60" height="7"/><rect class="bY" x="931" y="26.5" width="60" height="7"/>
<use href="#R" x="61" y="15"/><use href="#R" x="91" y="15"/><use href="#B" x="61" y="45"/><use href="#B" x="91" y="45"/><use href="#O" x="181" y="60"/><use href="#R" x="181" y="15"/><use href="#R" x="211" y="15"/><use href="#B" x="211" y="45"/><use href="#G" x="241"/><use href="#Y" x="241" y="30"/>
<use href="#Y" x="271" y="30"/><use href="#O" x="271" y="60"/><use href="#Y" x="361" y="30"/><use href="#B" x="361" y="45"/><use href="#G" x="451"/><use href="#Y" x="451" y="30"/>
<use href="#R" x="541" y="15"/><use href="#R" x="571" y="15"/><use href="#B" x="541" y="45"/><use href="#B" x="571" y="45"/>
<use href="#SY" x="751" y="30"/><use href="#SO" x="751" y="60"/><use href="#SY" x="841" y="30"/><use href="#SB" x="841" y="45"/><use href="#SG" x="931"/><use href="#SY" x="931" y="30"/>
<rect class="sp" x="751" y="0" width="240" height="60"/>
<text class="s1" x="269.5" y="77">286</text><text class="s2" x="269.5" y="90">39087</text><text class="s3" x="269.5" y="103">27.55%</text>
<text class="s1" x="509.5" y="77">234</text><text class="s2" x="509.5" y="90">40023</text><text class="s3" x="509.5" y="103">27.55%</text>
<text class="s1" x="749.5" y="77">172</text><text class="s2" x="749.5" y="90">40711</text><text class="s3" x="749.5" y="103">27.55%</text>
<text class="s1" x="989.5" y="77">234</text><text class="s2" x="989.5" y="90">41647</text><text class="s3" x="989.5" y="103">64.45%</text>
</g>

<g id="row14" transform="translate(0,2038)">
<use href="#grid4"/>
<text class="tp" x="31" y="-20">♩=154</text><text class="tp" x="271" y="-20">♩=147</text><text class="tp" x="511" y="-20">♩=150</text><text class="tp" x="751" y="-20">♩=149</text>
<text class="mn" x="32" y="-7">53</text><text class="mn" x="272" y="-7">54</text><text class="mn" x="512" y="-7">55</text><text class="mn" x="752" y="-7">56</text>
<rect class="bG" x="31" y="-3.5" width="15" height="7"/><rect class="bY" x="31" y="26.5" width="15" height="7"/>
<rect class="bR" x="91" y="11.5" width="165" height="7"/><rect class="bB" x="91" y="41.5" width="165" height="7"/>
<rect class="bY" x="271" y="26.5" width="225" height="7"/><rect class="bO" x="271" y="56.5" width="225" height="7"/>
<rect class="bY" x="511" y="26.5" width="225" height="7"/><rect class="bB" x="511" y="41.5" width="225" height="7"/>
<rect class="bR" x="751" y="11.5" width="210" height="7"/><rect class="bY" x="751" y="26.5" width="210" height="7"/>
<use href="#R" x="61" y="15"/><use href="#R" x="91" y="15"/><use href="#B" x="61" y="45"/><use href="#B" x="91" y="45"/>
<use href="#Y" x="271" y="30"/><use href="#O" x="271" y="60"/><use href="#Y" x="511" y="30"/><use href="#B" x="511" y="45"/><use href="#R" x="751" y="15"/><use href="#Y" x="751" y="30"/>
<rect class="sp" x="31" y="0" width="15" height="60"/>
<text class="s1" x="269.5" y="77">172</text><text class="s2" x="269.5" y="90">42335</text><text class="s3" x="269.5" y="103">65.30%</text>
<text class="s1" x="509.5" y="77">140</text><text class="s2" x="509.5" y="90">42895</text><text class="s3" x="509.5" y="103">65.30%</text>
<text class="s1" x="749.5" y="77">140</text><text class="s2" x="749.5" y="90">43455</text><text class="s3" x="749.5" y="103">65.30%</text>
<text class="s1" x="989.5" y="77">134</text><text class="s2" x="989.5" y="90">43991</text><text class="s3" x="989.5" y="103">65.30%</text>
</g>

<g id="row15" transform="translate(0,2179)">
<rect class="py" x="751" y="-10" width="240" height="82"/>
<use href="#grid4"/>
<text class="tp" x="31" y="-20">♩=149</text><text class="tp" x="271" y="-20">♩=153</text><text class="tp" x="511" y="-20">♩=150</text><text class="tp" x="751" y="-20">♩=152</text>
<text class="mn" x="32" y="-7">57</text><text class="mn" x="272" y="-7">58</text><text class="mn" x="512" y="-7">59</text><text class="mn" x="752" y="-7">60</text>
<rect class="bY" x="241" y="26.5" width="255" height="7"/><rect class="bO" x="241" y="56.5" width="255" height="7"/>
<rect class="bY" x="511" y="26.5" width="225" height="7"/><rect class="bB" x="511" y="41.5" width="225" height="7"/>
<rect class="bY" x="751" y="26.5" width="75" height="7"/><rect class="bO" x="751" y="56.5" width="75" height="7"/><rect class="bY" x="841" y="26.5" width="75" height="7"/><rect class="bB" x="841" y="41.5" width="75" height="7"/><rect class="bY" x="931" y="26.5" width="60" height="7"/><rect class="bO" x="931" y="56.5" width="60" height="7"/>
<use href="#G" x="61"/><use href="#G" x="91"/><use href="#G" x="121"/><use href="#G" x="151"/><use href="#G" x="181"/><use href="#G" x="211"/>
<use href="#Y" x="61" y="30"/><use href="#Y" x="91" y="30"/><use href="#Y" x="181" y="30"/><use href="#Y" x="211" y="30"/><use href="#Y" x="241" y="30"/>
<use href="#B" x="121" y="45"/><use href="#B" x="151" y="45"/><use href="#O" x="241" y="60"/>
<use href="#Y" x="511" y="30"/><use href="#B" x="511" y="45"/>
<use href="#SY" x="751" y="30"/><use href="#SO" x="751" y="60"/><use href="#SY" x="841" y="30"/><use href="#SB" x="841" y="45"/><use href="#SY" x="931" y="30"/><use href="#SO" x="931" y="60"/>
<rect class="pk" x="61" y="0" width="14" height="60"/><rect class="act" x="75" y="0" width="916" height="60"/><rect class="sp" x="751" y="0" width="240" height="60"/>
<text class="s1" x="269.5" y="77">362</text><text class="s2" x="269.5" y="90">46887</text><text class="s3" x="269.5" y="103">55.11%</text>
<text class="s1" x="509.5" y="77">90</text><text class="s2" x="509.5" y="90">47607</text><text class="s3" x="509.5" y="103">42.61%</text>
<text class="s1" x="749.5" y="77">140</text><text class="s2" x="749.5" y="90">48727</text><text class="s3" x="749.5" y="103">30.11%</text>
<text class="s1" x="989.5" y="77">234</text><text class="s2" x="989.5" y="90">50599</text><text class="s3" x="989.5" y="103">29.51%</text>
</g>

<g id="row16" transform="translate(0,2320)">
<rect class="py" x="31" y="-10" width="180" height="82"/>
<use href="#grid4"/>
<text class="tp" x="31" y="-20">♩=150</text><text class="tp" x="271" y="-20">♩=149</text><text class="tp" x="511" y="-20">♩=150</text><text class="tp" x="751" y="-20">♩=149</text>
<text class="mn" x="32" y="-7">61</text><text class="mn" x="272" y="-7">62</text><text class="mn" x="512" y="-7">63</text><text class="mn" x="752" y="-7">64</text>
<rect class="bY" x="31" y="26.5" width="15" height="7"/><rect class="bO" x="31" y="56.5" width="15" height="7"/>
<rect class="bY" x="61" y="26.5" width="75" height="7"/><rect class="bB" x="61" y="41.5" width="75" height="7"/>
<rect class="bG" x="811" y="-3.5" width="150" height="7"/><rect class="bY" x="811" y="26.5" width="150" height="7"/>
<use href="#SY" x="61" y="30"/><use href="#SB" x="61" y="45"/><use href="#SY" x="151" y="30"/><use href="#SO" x="151" y="60"/><use href="#SY" x="211" y="30"/><use href="#SB" x="211" y="45"/>
<use href="#G" x="271"/><use href="#G" x="301"/><use href="#G" x="331"/><use href="#G" x="361"/><use href="#G" x="391"/><use href="#G" x="421"/><use href="#G" x="451"/><use href="#G" x="481"/><use href="#G" x="511"/><use href="#G" x="541"/><use href="#G" x="571"/><use href="#G" x="601"/><use href="#G" x="631"/><use href="#G" x="661"/><use href="#G" x="691"/>
<use href="#R" x="271" y="15"/><use href="#R" x="301" y="15"/><use href="#R" x="331" y="15"/><use href="#R" x="361" y="15"/><use href="#R" x="391" y="15"/><use href="#R" x="421" y="15"/><use href="#R" x="451" y="15"/><use href="#R" x="481" y="15"/><use href="#R" x="511" y="15"/><use href="#R" x="541" y="15"/><use href="#R" x="571" y="15"/><use href="#R" x="601" y="15"/><use href="#R" x="631" y="15"/><use href="#R" x="661" y="15"/><use href="#R" x="691" y="15"/>
<use href="#G" x="811"/><use href="#Y" x="811" y="30"/>
<rect class="sp" x="31" y="0" width="180" height="60"/><rect class="act" x="31" y="0" width="960" height="60"/>
<text class="s1" x="269.5" y="77">186</text><text class="s2" x="269.5" y="90">52087</text><text class="s3" x="269.5" y="103">47.11%</text>
<text class="s1" x="509.5" y="77">400</text><text class="s2" x="509.5" y="90">55287</text><text class="s3" x="509.5" y="103">34.61%</text>
<text class="s1" x="749.5" y="77">350</text><text class="s2" x="749.5" y="90">58087</text><text class="s3" x="749.5" y="103">22.11%</text>
<text class="s1" x="989.5" y="77">110</text><text class="s2" x="989.5" y="90">58967</text><text class="s3" x="989.5" y="103">9.61%</text>
</g>

<g id="row17" transform="translate(0,2461)">
<use href="#grid4"/>
<text class="tp" x="31" y="-20">♩=149</text><text class="tp" x="271" y="-20">♩=150</text><text class="tp" x="511" y="-20">♩=150</text><text class="tp" x="751" y="-20">♩=150</text>
<text class="mn" x="32" y="-7">65</text><text class="mn" x="272" y="-7">66</text><text class="mn" x="512" y="-7">67</text><text class="mn" x="752" y="-7">68</text>
<rect class="bR" x="31" y="11.5" width="225" height="7"/><rect class="bB" x="31" y="41.5" width="225" height="7"/>
<rect class="bG" x="271" y="-3.5" width="135" height="7"/><rect class="bR" x="271" y="11.5" width="135" height="7"/><rect class="bG" x="421" y="-3.5" width="75" height="7"/><rect class="bR" x="421" y="11.5" width="75" height="7"/>
<rect class="bG" x="511" y="-3.5" width="225" height="7"/><rect class="bY" x="511" y="26.5" width="225" height="7"/>
<rect class="bR" x="751" y="11.5" width="165" height="7"/><rect class="bB" x="751" y="41.5" width="165" height="7"/><rect class="bR" x="931" y="11.5" width="45" height="7"/><rect class="bB" x="931" y="41.5" width="45" height="7"/>
<use href="#R" x="31" y="15"/><use href="#B" x="31" y="45"/><use href="#G" x="271"/><use href="#R" x="271" y="15"/><use href="#G" x="421"/><use href="#R" x="421" y="15"/><use href="#G" x="511"/><use href="#Y" x="511" y="30"/><use href="#R" x="751" y="15"/><use href="#B" x="751" y="45"/><use href="#R" x="931" y="15"/><use href="#B" x="931" y="45"/>
<rect class="act" x="31" y="0" width="663" height="60"/>
<text class="s1" x="269.5" y="77">140</text><text class="s2" x="269.5" y="90">60087</text><text class="s3" x="269.5" y="103">0.00%</text>
<text class="s1" x="509.5" y="77">184</text><text class="s2" x="509.5" y="90">61559</text><text class="s3" x="509.5" y="103">0.00%</text>
<text class="s1" x="749.5" y="77">140</text><text class="s2" x="749.5" y="90">62615</text><text class="s3" x="749.5" y="103">0.00%</text>
<text class="s1" x="989.5" y="77">184</text><text class="s2" x="989.5" y="90">63351</text><text class="s3" x="989.5" y="103">0.00%</text>
</g>

<g id="row18" transform="translate(0,2602)">
<use href="#grid4"/>
<text class="tp" x="31" y="-20">♩=152</text><text class="tp" x="271" y="-20">♩=149</text><text class="tp" x="511" y="-20">♩=150</text><text class="tp" x="751" y="-20">♩=150</text>
<text class="mn" x="32" y="-7">69</text><text class="mn" x="272" y="-7">70</text><text class="mn" x="512" y="-7">71</text><text class="mn" x="752" y="-7">72</text>
<rect class="bG" x="31" y="-3.5" width="225" height="7"/><rect class="bR" x="31" y="11.5" width="225" height="7"/>
<rect class="bG" x="271" y="-3.5" width="225" height="7"/><rect class="bY" x="271" y="26.5" width="225" height="7"/>
<rect class="bR" x="511" y="11.5" width="225" height="7"/><rect class="bB" x="511" y="41.5" width="225" height="7"/>
<rect class="bG" x="751" y="-3.5" width="135" height="7"/><rect class="bR" x="751" y="11.5" width="135" height="7"/><rect class="bG" x="901" y="-3.5" width="75" height="7"/><rect class="bR" x="901" y="11.5" width="75" height="7"/>
<use href="#G" x="31"/><use href="#R" x="31" y="15"/><use href="#G" x="271"/><use href="#Y" x="271" y="30"/><use href="#R" x="511" y="15"/><use href="#B" x="511" y="45"/>
<use href="#SG" x="751"/><use href="#SR" x="751" y="15"/><use href="#SG" x="901"/><use href="#SR" x="901" y="15"/>
<rect class="sp" x="751" y="0" width="225" height="60"/>
<text class="s1" x="269.5" y="77">140</text><text class="s2" x="269.5" y="90">63911</text><text class="s3" x="269.5" y="103">0.00%</text>
<text class="s1" x="509.5" y="77">140</text><text class="s2" x="509.5" y="90">64471</text><text class="s3" x="509.5" y="103">0.00%</text>
<text class="s1" x="749.5" y="77">140</text><text class="s2" x="749.5" y="90">65031</text><text class="s3" x="749.5" y="103">0.00%</text>
<text class="s1" x="989.5" y="77">184</text><text class="s2" x="989.5" y="90">65767</text><text class="s3" x="989.5" y="103">36.90%</text>
</g>

<g id="row19" transform="translate(0,2743)">
<use href="#grid4"/>
<text class="tp" x="31" y="-20">♩=150</text><text class="tp" x="271" y="-20">♩=151</text><text class="tp" x="511" y="-20">♩=147</text><text class="tp" x="751" y="-20">♩=153</text>
<text class="mn" x="32" y="-7">73</text><text class="mn" x="272" y="-7">74</text><text class="mn" x="512" y="-7">75</text><text class="mn" x="752" y="-7">76</text>
<rect class="bG" x="31" y="-3.5" width="225" height="7"/><rect class="bY" x="31" y="26.5" width="225" height="7"/>
<rect class="bR" x="271" y="11.5" width="195" height="7"/><rect class="bB" x="271" y="41.5" width="195" height="7"/>
<rect class="bR" x="511" y="11.5" width="360" height="7"/><rect class="bY" x="511" y="26.5" width="360" height="7"/>
<rect class="bR" x="901" y="11.5" width="75" height="7"/><rect class="bB" x="901" y="41.5" width="75" height="7"/>
<use href="#G" x="31"/><use href="#Y" x="31" y="30"/><use href="#R" x="271" y="15"/><use href="#B" x="271" y="45"/><use href="#R" x="481" y="15"/><use href="#R" x="511" y="15"/><use href="#Y" x="511" y="30"/><use href="#R" x="901" y="15"/><use href="#B" x="901" y="45"/>
<text class="s1" x="269.5" y="77">140</text><text class="s2" x="269.5" y="90">66327</text><text class="s3" x="269.5" y="103">36.90%</text>
<text class="s1" x="509.5" y="77">153</text><text class="s2" x="509.5" y="90">66939</text><text class="s3" x="509.5" y="103">36.90%</text>
<text class="s1" x="749.5" y="77">146</text><text class="s2" x="749.5" y="90">67523</text><text class="s3" x="749.5" y="103">36.90%</text>
<text class="s1" x="989.5" y="77">128</text><text class="s2" x="989.5" y="90">68035</text><text class="s3" x="989.5" y="103">36.90%</text>
</g>

<g id="row20" transform="translate(0,2884)">
<use href="#grid4"/>
<text class="tp" x="31" y="-20">♩=150</text><text class="tp" x="271" y="-20">♩=149</text><text class="tp" x="511" y="-20">♩=149</text><text class="tp" x="751" y="-20">♩=150</text>
<text class="mn" x="32" y="-7">77</text><text class="mn" x="272" y="-7">78</text><text class="mn" x="512" y="-7">79</text><text class="mn" x="752" y="-7">80</text>
<use href="#pA1"/><use href="#pB"/><use href="#pA3"/><use href="#pC"/>
<text class="s1" x="269.5" y="77">200</text><text class="s2" x="269.5" y="90">68835</text><text class="s3" x="269.5" y="103">36.90%</text>
<text class="s1" x="509.5" y="77">200</text><text class="s2" x="509.5" y="90">69635</text><text class="s3" x="509.5" y="103">36.90%</text>
<text class="s1" x="749.5" y="77">200</text><text class="s2" x="749.5" y="90">70435</text><text class="s3" x="749.5" y="103">36.90%</text>
<text class="s1" x="989.5" y="77">200</text><text class="s2" x="989.5" y="90">71235</text><text class="s3" x="989.5" y="103">36.90%</text>
</g>

<g id="row21" transform="translate(0,3025)">
<use href="#grid4"/>
<text class="tp" x="31" y="-20">♩=152</text><text class="tp" x="271" y="-20">♩=149</text><text class="tp" x="511" y="-20">♩=151</text><text class="tp" x="751" y="-20">♩=150</text>
<text class="mn" x="32" y="-7">81</text><text class="mn" x="272" y="-7">82</text><text class="mn" x="512" y="-7">83</text><text class="mn" x="752" y="-7">84</text>
<use href="#pA1"/><use href="#pB"/><use href="#pC"/>
<use href="#SG" x="511"/><use href="#SG" x="601"/><use href="#SG" x="691"/><use href="#SR" x="541" y="15"/><use href="#SY" x="571" y="30"/><use href="#SY" x="631" y="30"/><use href="#SB" x="661" y="45"/><use href="#SO" x="721" y="60"/>
<rect class="sp" x="511" y="0" width="210" height="60"/>
<text class="s1" x="269.5" y="77">200</text><text class="s2" x="269.5" y="90">72035</text><text class="s3" x="269.5" y="103">36.90%</text>
<text class="s1" x="509.5" y="77">200</text><text class="s2" x="509.5" y="90">72835</text><text class="s3" x="509.5" y="103">36.90%</text>
<text class="s1" x="749.5" y="77">200</text><text class="s2" x="749.5" y="90">73635</text><text class="s3" x="749.5" y="103">61.90%</text>
<text class="s1" x="989.5" y="77">200</text><text class="s2" x="989.5" y="90">74435</text><text class="s3" x="989.5" y="103">61.90%</text>
</g>

<g id="row22" transform="translate(0,3166)">
<use href="#grid4"/>
<text class="tp" x="31" y="-20">♩=149</text><text class="tp" x="271" y="-20">♩=149</text><text class="tp" x="511" y="-20">♩=151</text><text class="tp" x="751" y="-20">♩=150</text>
<text class="mn" x="32" y="-7">85</text><text class="mn" x="272" y="-7">86</text><text class="mn" x="512" y="-7">87</text><text class="mn" x="752" y="-7">88</text>
<rect class="bO" x="31" y="56.5" width="45" height="7"/><rect class="bY" x="121" y="26.5" width="45" height="7"/>
<rect class="bY" x="271" y="26.5" width="225" height="7"/><rect class="bB" x="271" y="41.5" width="225" height="7"/>
<rect class="bR" x="511" y="11.5" width="180" height="7"/><rect class="bY" x="511" y="26.5" width="180" height="7"/>
<rect class="bB" x="841" y="41.5" width="45" height="7"/>
<use href="#O" x="31" y="60"/><use href="#R" x="91" y="15"/><use href="#Y" x="121" y="30"/><use href="#O" x="181" y="60"/><use href="#Y" x="211" y="30"/><use href="#Y" x="241" y="30"/>
<use href="#Y" x="271" y="30"/><use href="#B" x="271" y="45"/><use href="#R" x="511" y="15"/><use href="#Y" x="511" y="30"/>
<use href="#O" x="751" y="60"/><use href="#G" x="781"/><use href="#R" x="811" y="15"/><use href="#B" x="841" y="45"/><use href="#Y" x="901" y="30"/><use href="#R" x="931" y="15"/><use href="#G" x="961"/>
<text class="s1" x="269.5" y="77">168</text><text class="s2" x="269.5" y="90">75107</text><text class="s3" x="269.5" y="103">61.90%</text>
<text class="s1" x="509.5" y="77">140</text><text class="s2" x="509.5" y="90">75667</text><text class="s3" x="509.5" y="103">61.90%</text>
<text class="s1" x="749.5" y="77">122</text><text class="s2" x="749.5" y="90">76155</text><text class="s3" x="749.5" y="103">61.90%</text>
<text class="s1" x="989.5" y="77">184</text><text class="s2" x="989.5" y="90">76891</text><text class="s3" x="989.5" y="103">61.90%</text>
</g>

<g id="row23" transform="translate(0,3307)">
<use href="#grid4"/>
<text class="tp" x="31" y="-20">♩=149</text><text class="tp" x="271" y="-20">♩=151</text><text class="tp" x="511" y="-20">♩=149</text><text class="tp" x="751" y="-20">♩=150</text>
<text class="mn" x="32" y="-7">89</text><text class="mn" x="272" y="-7">90</text><text class="mn" x="512" y="-7">91</text><text class="mn" x="752" y="-7">92</text>
<rect class="bY" x="121" y="26.5" width="45" height="7"/>
<rect class="bY" x="271" y="26.5" width="225" height="7"/><rect class="bB" x="271" y="41.5" width="225" height="7"/>
<rect class="bR" x="511" y="11.5" width="180" height="7"/><rect class="bY" x="511" y="26.5" width="180" height="7"/>
<rect class="bG" x="751" y="-3.5" width="240" height="7"/><rect class="bR" x="751" y="11.5" width="240" height="7"/>
<use href="#O" x="31" y="60"/><use href="#G" x="61"/><use href="#R" x="91" y="15"/><use href="#Y" x="121" y="30"/><use href="#O" x="181" y="60"/><use href="#Y" x="211" y="30"/><use href="#O" x="241" y="60"/>
<use href="#Y" x="271" y="30"/><use href="#B" x="271" y="45"/><use href="#R" x="511" y="15"/><use href="#Y" x="511" y="30"/><use href="#G" x="751"/><use href="#R" x="751" y="15"/>
<text class="s1" x="269.5" y="77">184</text><text class="s2" x="269.5" y="90">77627</text><text class="s3" x="269.5" y="103">61.90%</text>
<text class="s1" x="509.5" y="77">140</text><text class="s2" x="509.5" y="90">78187</text><text class="s3" x="509.5" y="103">61.90%</text>
<text class="s1" x="749.5" y="77">122</text><text class="s2" x="749.5" y="90">78675</text><text class="s3" x="749.5" y="103">61.90%</text>
<text class="s1" x="989.5" y="77">146</text><text class="s2" x="989.5" y="90">79259</text><text class="s3" x="989.5" y="103">61.90%</text>
</g>

<g id="row24" transform="translate(0,3448)">
<use href="#grid4"/>
<text class="tp" x="271" y="-20">♩=149</text><text class="tp" x="511" y="-20">♩=150</text><text class="tp" x="751" y="-20">♩=149</text>
<text class="mn" x="32" y="-7">93</text><text class="mn" x="272" y="-7">94</text><text class="mn" x="512" y="-7">95</text><text class="mn" x="752" y="-7">96</text>
<rect class="bG" x="31" y="-3.5" width="225" height="7"/><rect class="bR" x="31" y="11.5" width="225" height="7"/>
<rect class="bY" x="271" y="26.5" width="225" height="7"/><rect class="bO" x="271" y="56.5" width="225" height="7"/>
<rect class="bY" x="511" y="26.5" width="225" height="7"/><rect class="bB" x="511" y="41.5" width="225" height="7"/>
<rect class="bR" x="751" y="11.5" width="210" height="7"/><rect class="bY" x="751" y="26.5" width="210" height="7"/>
<use href="#Y" x="271" y="30"/><use href="#O" x="271" y="60"/><use href="#Y" x="511" y="30"/><use href="#B" x="511" y="45"/><use href="#SR" x="751" y="15"/><use href="#SY" x="751" y="30"/>
<rect class="sp" x="751" y="0" width="210" height="60"/>
<text class="s1" x="269.5" y="77">90</text><text class="s2" x="269.5" y="90">79619</text><text class="s3" x="269.5" y="103">61.90%</text>
<text class="s1" x="509.5" y="77">140</text><text class="s2" x="509.5" y="90">80179</text><text class="s3" x="509.5" y="103">61.90%</text>
<text class="s1" x="749.5" y="77">140</text><text class="s2" x="749.5" y="90">80739</text><text class="s3" x="749.5" y="103">61.90%</text>
<text class="s1" x="989.5" y="77">134</text><text class="s2" x="989.5" y="90">81275</text><text class="s3" x="989.5" y="103">98.80%</text>
</g>

<g id="row25" transform="translate(0,3589)">
<use href="#grid4"/>
<text class="tp" x="31" y="-20">♩=153</text><text class="tp" x="271" y="-20">♩=149</text><text class="tp" x="511" y="-20">♩=149</text><text class="tp" x="751" y="-20">♩=150</text>
<text class="mn" x="32" y="-7">97</text><text class="mn" x="272" y="-7">98</text><text class="mn" x="512" y="-7">99</text><text class="mn" x="752" y="-7">100</text>
<rect class="bY" x="241" y="26.5" width="255" height="7"/><rect class="bO" x="241" y="56.5" width="255" height="7"/>
<rect class="bY" x="511" y="26.5" width="210" height="7"/><rect class="bB" x="511" y="41.5" width="210" height="7"/>
<rect class="bY" x="751" y="26.5" width="75" height="7"/><rect class="bO" x="751" y="56.5" width="75" height="7"/><rect class="bY" x="841" y="26.5" width="75" height="7"/><rect class="bB" x="841" y="41.5" width="75" height="7"/><rect class="bY" x="931" y="26.5" width="60" height="7"/><rect class="bO" x="931" y="56.5" width="60" height="7"/>
<use href="#G" x="61"/><use href="#G" x="91"/><use href="#G" x="121"/><use href="#G" x="151"/><use href="#G" x="181"/><use href="#G" x="211"/>
<use href="#Y" x="61" y="30"/><use href="#Y" x="91" y="30"/><use href="#Y" x="181" y="30"/><use href="#Y" x="211" y="30"/><use href="#Y" x="241" y="30"/>
<use href="#B" x="121" y="45"/><use href="#B" x="151" y="45"/><use href="#O" x="241" y="60"/>
<use href="#Y" x="511" y="30"/><use href="#B" x="511" y="45"/>
<use href="#Y" x="751" y="30"/><use href="#O" x="751" y="60"/><use href="#Y" x="841" y="30"/><use href="#B" x="841" y="45"/><use href="#Y" x="931" y="30"/><use href="#O" x="931" y="60"/>
<rect class="pk" x="91" y="0" width="12" height="60"/><rect class="act" x="103" y="0" width="888" height="60"/>
<text class="s1" x="269.5" y="77">362</text><text class="s2" x="269.5" y="90">83971</text><text class="s3" x="269.5" y="103">90.08%</text>
<text class="s1" x="509.5" y="77">90</text><text class="s2" x="509.5" y="90">84691</text><text class="s3" x="509.5" y="103">77.58%</text>
<text class="s1" x="749.5" y="77">134</text><text class="s2" x="749.5" y="90">85763</text><text class="s3" x="749.5" y="103">65.08%</text>
<text class="s1" x="989.5" y="77">234</text><text class="s2" x="989.5" y="90">87635</text><text class="s3" x="989.5" y="103">52.58%</text>
</g>

<g id="row26" transform="translate(0,3730)">
<rect class="py" x="751" y="-10" width="240" height="82"/>
<use href="#grid4"/>
<text class="tp" x="31" y="-20">♩=151</text><text class="tp" x="751" y="-20">♩=149</text>
<text class="mn" x="32" y="-7">101</text><text class="mn" x="272" y="-7">102</text><text class="mn" x="512" y="-7">103</text><text class="mn" x="752" y="-7">104</text>
<rect class="bY" x="31" y="26.5" width="15" height="7"/><rect class="bO" x="31" y="56.5" width="15" height="7"/>
<rect class="bY" x="61" y="26.5" width="75" height="7"/><rect class="bB" x="61" y="41.5" width="75" height="7"/>
<rect class="bY" x="271" y="26.5" width="75" height="7"/><rect class="bO" x="271" y="56.5" width="75" height="7"/><rect class="bY" x="361" y="26.5" width="75" height="7"/><rect class="bB" x="361" y="41.5" width="75" height="7"/><rect class="bY" x="451" y="26.5" width="75" height="7"/><rect class="bO" x="451" y="56.5" width="75" height="7"/>
<rect class="bY" x="541" y="26.5" width="75" height="7"/><rect class="bB" x="541" y="41.5" width="75" height="7"/>
<rect class="bY" x="751" y="26.5" width="75" height="7"/><rect class="bO" x="751" y="56.5" width="75" height="7"/><rect class="bY" x="841" y="26.5" width="75" height="7"/><rect class="bB" x="841" y="41.5" width="75" height="7"/><rect class="bB" x="931" y="41.5" width="60" height="7"/><rect class="bO" x="931" y="56.5" width="60" height="7"/>
<use href="#Y" x="61" y="30"/><use href="#B" x="61" y="45"/><use href="#Y" x="151" y="30"/><use href="#O" x="151" y="60"/><use href="#Y" x="211" y="30"/><use href="#B" x="211" y="45"/>
<use href="#Y" x="271" y="30"/><use href="#O" x="271" y="60"/><use href="#Y" x="361" y="30"/><use href="#B" x="361" y="45"/><use href="#Y" x="451" y="30"/><use href="#O" x="451" y="60"/>
<use href="#Y" x="541" y="30"/><use href="#B" x="541" y="45"/><use href="#Y" x="631" y="30"/><use href="#O" x="631" y="60"/><use href="#Y" x="691" y="30"/><use href="#B" x="691" y="45"/>
<use href="#SY" x="751" y="30"/><use href="#SO" x="751" y="60"/><use href="#SY" x="841" y="30"/><use href="#SB" x="841" y="45"/><use href="#SB" x="931" y="45"/><use href="#SO" x="931" y="60"/>
<rect class="act" x="31" y="0" width="960" height="60"/><rect class="sp" x="751" y="0" width="240" height="60"/>
<text class="s1" x="269.5" y="77">186</text><text class="s2" x="269.5" y="90">89123</text><text class="s3" x="269.5" y="103">40.08%</text>
<text class="s1" x="509.5" y="77">234</text><text class="s2" x="509.5" y="90">90995</text><text class="s3" x="509.5" y="103">27.58%</text>
<text class="s1" x="749.5" y="77">186</text><text class="s2" x="749.5" y="90">92483</text><text class="s3" x="749.5" y="103">15.08%</text>
<text class="s1" x="989.5" y="77">234</text><text class="s2" x="989.5" y="90">94355</text><text class="s3" x="989.5" y="103">14.48%</text>
</g>

<g id="row27" transform="translate(0,3871)">
<rect class="py" x="31" y="-10" width="180" height="82"/>
<use href="#grid4"/>
<text class="tp" x="31" y="-20">♩=147</text><text class="tp" x="271" y="-20">♩=153</text><text class="tp" x="511" y="-20">♩=148</text><text class="tp" x="751" y="-20">♩=150</text>
<text class="mn" x="32" y="-7">105</text><text class="mn" x="272" y="-7">106</text><text class="mn" x="512" y="-7">107</text><text class="mn" x="752" y="-7">108</text>
<rect class="bB" x="31" y="41.5" width="15" height="7"/><rect class="bO" x="31" y="56.5" width="15" height="7"/>
<rect class="bY" x="61" y="26.5" width="75" height="7"/><rect class="bB" x="61" y="41.5" width="75" height="7"/>
<rect class="bG" x="811" y="-3.5" width="165" height="7"/><rect class="bY" x="811" y="26.5" width="165" height="7"/>
<use href="#SY" x="61" y="30"/><use href="#SB" x="61" y="45"/><use href="#SR" x="151" y="15"/><use href="#SB" x="151" y="45"/><use href="#SY" x="211" y="30"/><use href="#SB" x="211" y="45"/>
<use href="#Y" x="271" y="30"/><use href="#Y" x="301" y="30"/><use href="#Y" x="331" y="30"/><use href="#Y" x="361" y="30"/><use href="#Y" x="391" y="30"/><use href="#Y" x="421" y="30"/><use href="#Y" x="451" y="30"/><use href="#Y" x="481" y="30"/><use href="#Y" x="511" y="30"/><use href="#Y" x="541" y="30"/><use href="#Y" x="571" y="30"/><use href="#Y" x="601" y="30"/><use href="#Y" x="631" y="30"/><use href="#Y" x="661" y="30"/><use href="#Y" x="691" y="30"/>
<use href="#O" x="271" y="60"/><use href="#O" x="301" y="60"/><use href="#O" x="331" y="60"/><use href="#O" x="361" y="60"/><use href="#O" x="391" y="60"/><use href="#O" x="421" y="60"/><use href="#O" x="451" y="60"/><use href="#O" x="481" y="60"/><use href="#O" x="511" y="60"/><use href="#O" x="541" y="60"/><use href="#O" x="571" y="60"/><use href="#O" x="601" y="60"/><use href="#O" x="631" y="60"/><use href="#O" x="661" y="60"/><use href="#O" x="691" y="60"/>
<use href="#R" x="721" y="15"/><use href="#G" x="811"/><use href="#Y" x="811" y="30"/>
<rect class="sp" x="31" y="0" width="180" height="60"/><rect class="act" x="31" y="0" width="960" height="60"/>
<text class="s1" x="269.5" y="77">186</text><text class="s2" x="269.5" y="90">95843</text><text class="s3" x="269.5" y="103">32.08%</text>
<text class="s1" x="509.5" y="77">400</text><text class="s2" x="509.5" y="90">99043</text><text class="s3" x="509.5" y="103">19.58%</text>
<text class="s1" x="749.5" y="77">375</text><text class="s2" x="749.5" y="90">102043</text><text class="s3" x="749.5" y="103">7.08%</text>
<text class="s1" x="989.5" y="77">116</text><text class="s2" x="989.5" y="90">102971</text><text class="s3" x="989.5" y="103">0.00%</text>
</g>

<g id="row28" transform="translate(0,4012)">
<use href="#grid4"/>
<text class="tp" x="31" y="-20">♩=150</text><text class="tp" x="271" y="-20">♩=150</text><text class="tp" x="511" y="-20">♩=150</text><text class="tp" x="751" y="-20">♩=150</text>
<text class="mn" x="32" y="-7">109</text><text class="mn" x="272" y="-7">110</text><text class="mn" x="512" y="-7">111</text><text class="mn" x="752" y="-7">112</text>
<rect class="bR" x="31" y="11.5" width="225" height="7"/><rect class="bB" x="31" y="41.5" width="225" height="7"/>
<rect class="bG" x="271" y="-3.5" width="135" height="7"/><rect class="bR" x="271" y="11.5" width="135" height="7"/><rect class="bG" x="421" y="-3.5" width="75" height="7"/><rect class="bR" x="421" y="11.5" width="75" height="7"/>
<rect class="bG" x="511" y="-3.5" width="225" height="7"/><rect class="bY" x="511" y="26.5" width="225" height="7"/>
<rect class="bR" x="751" y="11.5" width="165" height="7"/><rect class="bB" x="751" y="41.5" width="165" height="7"/><rect class="bR" x="931" y="11.5" width="45" height="7"/><rect class="bB" x="931" y="41.5" width="45" height="7"/>
<use href="#R" x="31" y="15"/><use href="#B" x="31" y="45"/><use href="#G" x="271"/><use href="#R" x="271" y="15"/><use href="#G" x="421"/><use href="#R" x="421" y="15"/><use href="#G" x="511"/><use href="#Y" x="511" y="30"/><use href="#R" x="751" y="15"/><use href="#B" x="751" y="45"/><use href="#R" x="931" y="15"/><use href="#B" x="931" y="45"/>
<rect class="act" x="31" y="0" width="375" height="60"/><rect class="pk" x="406" y="0" width="14" height="60"/>
<text class="s1" x="269.5" y="77">140</text><text class="s2" x="269.5" y="90">104091</text><text class="s3" x="269.5" y="103">0.00%</text>
<text class="s1" x="509.5" y="77">184</text><text class="s2" x="509.5" y="90">105443</text><text class="s3" x="509.5" y="103">0.00%</text>
<text class="s1" x="749.5" y="77">140</text><text class="s2" x="749.5" y="90">106003</text><text class="s3" x="749.5" y="103">0.00%</text>
<text class="s1" x="989.5" y="77">184</text><text class="s2" x="989.5" y="90">106739</text><text class="s3" x="989.5" y="103">0.00%</text>
</g>

<g id="row29" transform="translate(0,4153)">
<use href="#grid4"/>
<text class="tp" x="31" y="-20">♩=150</text><text class="tp" x="271" y="-20">♩=150</text><text class="tp" x="511" y="-20">♩=151</text><text class="tp" x="751" y="-20">♩=149</text>
<text class="mn" x="32" y="-7">113</text><text class="mn" x="272" y="-7">114</text><text class="mn" x="512" y="-7">115</text><text class="mn" x="752" y="-7">116</text>
<rect class="bG" x="31" y="-3.5" width="165" height="7"/><rect class="bR" x="31" y="11.5" width="165" height="7"/><rect class="bG" x="211" y="-3.5" width="45" height="7"/><rect class="bR" x="211" y="11.5" width="45" height="7"/>
<rect class="bG" x="271" y="-3.5" width="225" height="7"/><rect class="bY" x="271" y="26.5" width="225" height="7"/>
<rect class="bR" x="511" y="11.5" width="225" height="7"/><rect class="bB" x="511" y="41.5" width="225" height="7"/>
<rect class="bG" x="751" y="-3.5" width="135" height="7"/><rect class="bR" x="751" y="11.5" width="135" height="7"/><rect class="bG" x="901" y="-3.5" width="75" height="7"/><rect class="bR" x="901" y="11.5" width="75" height="7"/>
<use href="#SG" x="31"/><use href="#SR" x="31" y="15"/><use href="#SG" x="211"/><use href="#SR" x="211" y="15"/>
<use href="#G" x="271"/><use href="#Y" x="271" y="30"/><use href="#R" x="511" y="15"/><use href="#B" x="511" y="45"/><use href="#G" x="751"/><use href="#R" x="751" y="15"/><use href="#G" x="901"/><use href="#R" x="901" y="15"/>
<rect class="sp" x="31" y="0" width="225" height="60"/>
<text class="s1" x="269.5" y="77">184</text><text class="s2" x="269.5" y="90">107475</text><text class="s3" x="269.5" y="103">36.90%</text>
<text class="s1" x="509.5" y="77">140</text><text class="s2" x="509.5" y="90">108035</text><text class="s3" x="509.5" y="103">36.90%</text>
<text class="s1" x="749.5" y="77">140</text><text class="s2" x="749.5" y="90">108595</text><text class="s3" x="749.5" y="103">36.90%</text>
<text class="s1" x="989.5" y="77">184</text><text class="s2" x="989.5" y="90">109331</text><text class="s3" x="989.5" y="103">36.90%</text>
</g>

<g id="row30" transform="translate(0,4294)">
<use href="#grid4"/>
<text class="tp" x="31" y="-20">♩=150</text><text class="tp" x="271" y="-20">♩=148</text><text class="tp" x="511" y="-20">♩=151</text><text class="tp" x="751" y="-20">♩=153</text>
<text class="mn" x="32" y="-7">117</text><text class="mn" x="272" y="-7">118</text><text class="mn" x="512" y="-7">119</text><text class="mn" x="752" y="-7">120</text>
<rect class="bG" x="31" y="-3.5" width="225" height="7"/><rect class="bY" x="31" y="26.5" width="225" height="7"/>
<rect class="bR" x="271" y="11.5" width="225" height="7"/><rect class="bB" x="271" y="41.5" width="225" height="7"/>
<rect class="bR" x="511" y="11.5" width="480" height="7"/><rect class="bY" x="511" y="26.5" width="480" height="7"/>
<use href="#G" x="31"/><use href="#Y" x="31" y="30"/><use href="#R" x="271" y="15"/><use href="#B" x="271" y="45"/><use href="#R" x="511" y="15"/><use href="#Y" x="511" y="30"/>
<text class="s1" x="269.5" y="77">140</text><text class="s2" x="269.5" y="90">109891</text><text class="s3" x="269.5" y="103">36.90%</text>
<text class="s1" x="509.5" y="77">140</text><text class="s2" x="509.5" y="90">110451</text><text class="s3" x="509.5" y="103">36.90%</text>
<text class="s1" x="749.5" y="77">146</text><text class="s2" x="749.5" y="90">111035</text><text class="s3" x="749.5" y="103">36.90%</text>
<text class="s1" x="989.5" y="77">96</text><text class="s2" x="989.5" y="90">111419</text><text class="s3" x="989.5" y="103">36.90%</text>
</g>

<g id="row31" transform="translate(0,4435)">
<rect class="py" x="511" y="-10" width="465" height="82"/>
<use href="#grid4"/>
<text class="tp" x="31" y="-20">♩=149</text><text class="tp" x="271" y="-20">♩=150</text><text class="tp" x="511" y="-20">♩=151</text><text class="tp" x="751" y="-20">♩=147</text>
<text class="mn" x="32" y="-7">121</text><text class="mn" x="272" y="-7">122</text><text class="mn" x="512" y="-7">123</text><text class="mn" x="752" y="-7">124</text>
<rect class="bR" x="31" y="11.5" width="240" height="7"/><rect class="bY" x="31" y="26.5" width="240" height="7"/>
<rect class="bY" x="511" y="26.5" width="75" height="7"/><rect class="bO" x="511" y="56.5" width="75" height="7"/><rect class="bY" x="601" y="26.5" width="75" height="7"/><rect class="bB" x="601" y="41.5" width="75" height="7"/>
<rect class="bG" x="691" y="-3.5" width="75" height="7"/><rect class="bY" x="691" y="26.5" width="75" height="7"/><rect class="bR" x="811" y="11.5" width="165" height="7"/><rect class="bB" x="811" y="41.5" width="165" height="7"/>
<use href="#SY" x="511" y="30"/><use href="#SO" x="511" y="60"/><use href="#SY" x="601" y="30"/><use href="#SB" x="601" y="45"/><use href="#SG" x="691"/><use href="#SY" x="691" y="30"/><use href="#SR" x="781" y="15"/><use href="#SB" x="781" y="45"/><use href="#SR" x="811" y="15"/><use href="#SB" x="811" y="45"/>
<rect class="sp" x="511" y="0" width="465" height="60"/>
<text class="s1" x="269.5" y="77">96</text><text class="s2" x="269.5" y="90">111803</text><text class="s3" x="269.5" y="103">36.90%</text>
<text class="s1" x="509.5" y="77">0</text><text class="s2" x="509.5" y="90">111803</text><text class="s3" x="509.5" y="103">36.90%</text>
<text class="s1" x="749.5" y="77">234</text><text class="s2" x="749.5" y="90">112739</text><text class="s3" x="749.5" y="103">48.80%</text>
<text class="s1" x="989.5" y="77">172</text><text class="s2" x="989.5" y="90">113427</text><text class="s3" x="989.5" y="103">84.00%</text>
</g>

<g id="row32" transform="translate(0,4576)">
<use href="#grid4"/>
<text class="tp" x="31" y="-20">♩=152</text><text class="tp" x="271" y="-20">♩=148</text><text class="tp" x="511" y="-20">♩=152</text><text class="tp" x="751" y="-20">♩=148</text>
<text class="mn" x="32" y="-7">125</text><text class="mn" x="272" y="-7">126</text><text class="mn" x="512" y="-7">127</text><text class="mn" x="752" y="-7">128</text>
<rect class="bY" x="31" y="26.5" width="75" height="7"/><rect class="bO" x="31" y="56.5" width="75" height="7"/><rect class="bY" x="121" y="26.5" width="75" height="7"/><rect class="bB" x="121" y="41.5" width="75" height="7"/><rect class="bG" x="211" y="-3.5" width="75" height="7"/><rect class="bY" x="211" y="26.5" width="75" height="7"/>
<rect class="bR" x="331" y="11.5" width="150" height="7"/><rect class="bB" x="331" y="41.5" width="150" height="7"/>
<use href="#Y" x="31" y="30"/><use href="#O" x="31" y="60"/><use href="#Y" x="121" y="30"/><use href="#B" x="121" y="45"/><use href="#G" x="211"/><use href="#Y" x="211" y="30"/>
<use href="#R" x="301" y="15"/><use href="#B" x="301" y="45"/><use href="#R" x="331" y="15"/><use href="#B" x="331" y="45"/>
<use href="#pA3"/><use href="#pC"/>
<text class="s1" x="269.5" y="77">234</text><text class="s2" x="269.5" y="90">114363</text><text class="s3" x="269.5" y="103">84.00%</text>
<text class="s1" x="509.5" y="77">166</text><text class="s2" x="509.5" y="90">115027</text><text class="s3" x="509.5" y="103">84.00%</text>
<text class="s1" x="749.5" y="77">200</text><text class="s2" x="749.5" y="90">115827</text><text class="s3" x="749.5" y="103">84.00%</text>
<text class="s1" x="989.5" y="77">200</text><text class="s2" x="989.5" y="90">116627</text><text class="s3" x="989.5" y="103">84.00%</text>
</g>

<g id="row33" transform="translate(0,4717)">
<use href="#grid4"/>
<text class="tp" x="31" y="-20">♩=151</text><text class="tp" x="271" y="-20">♩=152</text><text class="tp" x="511" y="-20">♩=149</text><text class="tp" x="751" y="-20">♩=149</text>
<text class="mn" x="32" y="-7">129</text><text class="mn" x="272" y="-7">130</text><text class="mn" x="512" y="-7">131</text><text class="mn" x="752" y="-7">132</text>
<use href="#pA1"/><use href="#pB"/><use href="#pA3"/><use href="#pC"/>
<rect class="pk" x="61" y="0" width="14" height="60"/><rect class="act" x="75" y="0" width="916" height="60"/>
<text class="s1" x="269.5" y="77">200</text><text class="s2" x="269.5" y="90">118127</text><text class="s3" x="269.5" y="103">73.82%</text>
<text class="s1" x="509.5" y="77">200</text><text class="s2" x="509.5" y="90">119727</text><text class="s3" x="509.5" y="103">61.32%</text>
<text class="s1" x="749.5" y="77">200</text><text class="s2" x="749.5" y="90">121327</text><text class="s3" x="749.5" y="103">48.82%</text>
<text class="s1" x="989.5" y="77">200</text><text class="s2" x="989.5" y="90">122927</text><text class="s3" x="989.5" y="103">36.32%</text>
</g>

<g id="row34" transform="translate(0,4858)">
<use href="#grid4"/>
<text class="tp" x="31" y="-20">♩=151</text><text class="tp" x="271" y="-20">♩=150</text><text class="tp" x="511" y="-20">♩=151</text><text class="tp" x="751" y="-20">♩=146</text>
<text class="mn" x="32" y="-7">133</text><text class="mn" x="272" y="-7">134</text><text class="mn" x="512" y="-7">135</text><text class="mn" x="752" y="-7">136</text>
<use href="#pA1"/><use href="#pB"/><use href="#pA3"/><use href="#pC"/>
<rect class="act" x="31" y="0" width="960" height="60"/>
<text class="s1" x="269.5" y="77">200</text><text class="s2" x="269.5" y="90">124527</text><text class="s3" x="269.5" y="103">23.82%</text>
<text class="s1" x="509.5" y="77">200</text><text class="s2" x="509.5" y="90">126127</text><text class="s3" x="509.5" y="103">11.32%</text>
<text class="s1" x="749.5" y="77">200</text><text class="s2" x="749.5" y="90">127727</text><text class="s3" x="749.5" y="103">0.00%</text>
<text class="s1" x="989.5" y="77">200</text><text class="s2" x="989.5" y="90">129327</text><text class="s3" x="989.5" y="103">0.00%</text>
</g>

<g id="row35" transform="translate(0,4999)">
<use href="#grid3"/>
<text class="tp" x="31" y="-20">♩=145</text>
<text class="mn" x="32" y="-7">137</text><text class="mn" x="272" y="-7">138</text><text class="mn" x="512" y="-7">139</text>
<rect class="bB" x="91" y="41.5" width="510" height="7"/><rect class="bO" x="91" y="56.5" width="510" height="7"/>
<use href="#Y" x="31" y="30"/><use href="#Y" x="61" y="30"/><use href="#Y" x="76" y="30"/><use href="#O" x="31" y="60"/><use href="#O" x="61" y="60"/><use href="#O" x="76" y="60"/>
<use href="#B" x="91" y="45"/><use href="#O" x="91" y="60"/>
<use href="#Y" x="631" y="30"/><use href="#Y" x="661" y="30"/><use href="#Y" x="691" y="30"/><use href="#O" x="631" y="60"/><use href="#O" x="661" y="60"/><use href="#O" x="691" y="60"/>
<rect class="act" x="31" y="0" width="44" height="60"/><rect class="pk" x="75" y="0" width="16" height="60"/>
<text class="s1" x="269.5" y="77">272</text><text class="s2" x="269.5" y="90">131215</text><text class="s3" x="269.5" y="103">0.00%</text>
<text class="s1" x="509.5" y="77">96</text><text class="s2" x="509.5" y="90">131599</text><text class="s3" x="509.5" y="103">0.00%</text>
<text class="s1" x="749.5" y="77">186</text><text class="s2" x="749.5" y="90">132343</text><text class="s3" x="749.5" y="103">0.00%</text>
</g>
</g>
</svg>
